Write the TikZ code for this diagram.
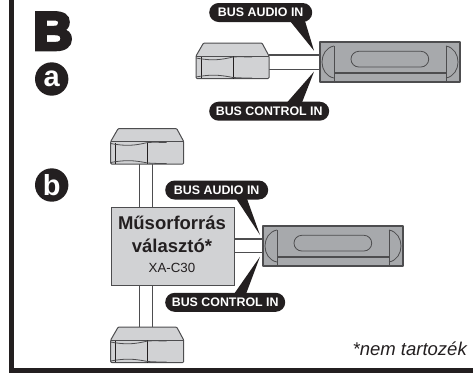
\documentclass[tikz,border=0pt]{standalone}
\usepackage{fontspec}
\setmainfont{Liberation Sans}
\newfontfamily\heavyfont[FakeBold=7]{Liberation Sans Bold}
\usetikzlibrary{shapes.misc}
\definecolor{barcol}{HTML}{231F20}
\definecolor{linecol}{HTML}{4D4D4F}
\definecolor{lightcol}{HTML}{D1D2D4}
\definecolor{headcol}{HTML}{A7A9AC}
\tikzset{
	wire/.style={draw=linecol,line width=1.2},
	pill/.style={rounded rectangle,fill=barcol,text=white,font=\fontsize{12.4}{13}\selectfont\bfseries,minimum height=19,inner sep=0,anchor=west},
	tail/.style={fill=barcol},
	badge/.style={circle,fill=barcol,text=white,minimum size=33.4,inner sep=0,font=\fontsize{29}{30}\selectfont\bfseries},
	pics/source/.style={code={
		\draw[draw=linecol,line width=1,fill=lightcol,line join=round,rounded corners=1] (0,0) -- (7.5,-13) -- (66,-13) -- (73,0) -- (73,22.5) -- (0,22.5) -- cycle;
		\draw[draw=linecol,line width=1] (0,0) -- (73,0);
		\draw[draw=barcol,line width=0.8] (5,1) -- (5,22) (37,0) -- (37,22.5);
		\draw[draw=linecol,line width=0.8] (0,2) .. controls (16,5) and (24,4) .. (37,1) .. controls (44,0.5) and (50,1) .. (56,1);
		\draw[draw=linecol,line width=0.8] (0,21) .. controls (16,18) and (24,19) .. (37,21.5) .. controls (44,22) and (50,22) .. (56,22);
	}},
	pics/headunit/.style={code={
		\draw[draw=linecol,line width=1.2,fill=headcol,line join=round] (0,0) rectangle (140,40);
		\draw[draw=linecol,line width=0.8] (14,4) .. controls (-2,7) and (-2,33) .. (14,36);
		\draw[draw=linecol,line width=0.8] (126,4) .. controls (142,7) and (142,33) .. (126,36);
		\draw[draw=linecol,line width=0.8] (14,4) -- (14,39) (126,4) -- (126,39);
		\draw[draw=linecol,line width=0.8] (14,30) -- (126,30);
		\draw[draw=linecol,line width=0.8] (14,31.5) -- (126,31.5);
		\draw[draw=linecol,line width=0.8,rounded corners=7.8] (31,9.3) rectangle (108.7,25);
	}},
}
\begin{document}
\begin{tikzpicture}[x=1pt,y=-1pt]
	\useasboundingbox (0,0) rectangle (473,373);
	% frame
	\fill[barcol] (9,0) rectangle (14,373);
	\fill[barcol] (9,368) rectangle (473,373);
	\node[inner sep=0,text=barcol,xscale=1.02,font=\fontsize{53}{53}\selectfont\heavyfont] (letterB) at (53,31.2) {B};
	\node[badge] (badgeA) at (51.7,79) {a};
	\node[badge] (badgeB) at (51.7,185) {b};
	% part a
	\coordinate (srcAone) at (269,55);
	\coordinate (srcAtwo) at (269,69.3);
	\coordinate (headAone) at (320,55);
	\coordinate (headAtwo) at (320,69.3);
	\draw[wire] (srcAone) -- (headAone);
	\draw[wire] (srcAtwo) -- (headAtwo);
	\pic at (196,56) {source};
	\pic at (320,42) {headunit};
	\coordinate (tipAudioA) at (314,50.7);
	\coordinate (tipControlA) at (314,71.7);
	\fill[tail] (290,21) -- (305,21) -- (tipAudioA) -- cycle;
	\fill[tail] (287,102.5) -- (302,102.5) -- (tipControlA) -- cycle;
	\node[pill,minimum width=103] (audioA) at (209,12.5) {BUS AUDIO IN};
	\node[pill,minimum width=120] (controlA) at (209,111.2) {BUS CONTROL IN};
	% part b
	\node[draw=linecol,line width=1.2,fill=lightcol,minimum width=123.3,minimum height=78.3,inner sep=0,anchor=north west] (selector) at (110.7,206.7) {};
	\node[inner sep=0,text=barcol,font=\fontsize{18.5}{20}\selectfont\bfseries] (selectorName) at (172,223) {Műsorforrás};
	\node[inner sep=0,text=barcol,font=\fontsize{18.5}{20}\selectfont\bfseries] (selectorSub) at (172,246) {választó*};
	\node[inner sep=0,text=barcol,font=\fontsize{13.3}{14}\selectfont] (selectorModel) at (172,268) {XA-C30};
	\coordinate (srcBtopone) at (139.3,164.3);
	\coordinate (srcBtoptwo) at (152.7,164.3);
	\coordinate (srcBlowone) at (139.3,327.3);
	\coordinate (srcBlowtwo) at (152.7,327.3);
	\draw[wire] (srcBtopone) -- (srcBtopone |- selector.north);
	\draw[wire] (srcBtoptwo) -- (srcBtoptwo |- selector.north);
	\draw[wire] (srcBlowone) -- (srcBlowone |- selector.south);
	\draw[wire] (srcBlowtwo) -- (srcBlowtwo |- selector.south);
	\coordinate (headBone) at (263,239);
	\coordinate (headBtwo) at (263,252.3);
	\draw[wire] (headBone) -- (headBone -| selector.east);
	\draw[wire] (headBtwo) -- (headBtwo -| selector.east);
	\pic at (110.7,141.5) {source};
	\pic at (110.7,340) {source};
	\pic at (263,226) {headunit};
	\coordinate (tipAudioB) at (260,235);
	\coordinate (tipControlB) at (260,256.7);
	\fill[tail] (235.7,198) -- (246.7,198) -- (tipAudioB) -- cycle;
	\fill[tail] (234,294) -- (246,294) -- (tipControlB) -- cycle;
	\node[pill,minimum width=103] (audioB) at (165,190) {BUS AUDIO IN};
	\node[pill,minimum width=120] (controlB) at (165,302.3) {BUS CONTROL IN};
	\node[inner sep=0,anchor=east,text=barcol,font=\fontsize{18.5}{19}\selectfont\itshape] (note) at (467,349) {*nem tartozék};
\end{tikzpicture}
\end{document}
